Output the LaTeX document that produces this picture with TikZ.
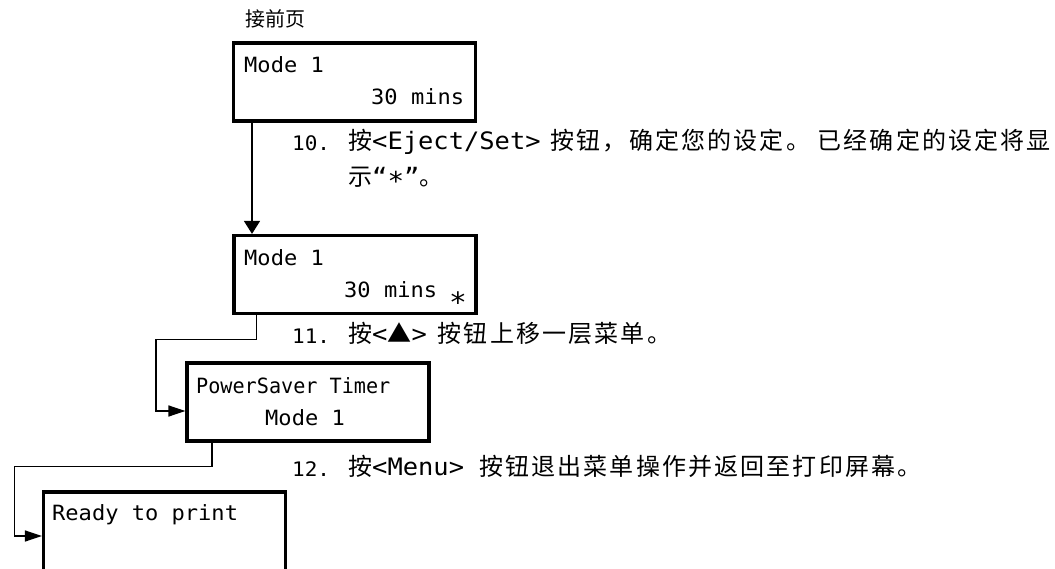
\documentclass[tikz,border=0pt]{standalone}
\usepackage{fontspec}
\usetikzlibrary{arrows.meta}
\newfontfamily\cjk[LetterSpace=9]{Noto Sans CJK SC}
\newfontfamily\cjkp{Noto Sans CJK SC}
\newfontfamily\lcdfont[FakeStretch=1.05]{DejaVu Sans Mono}
\newfontfamily\lcdfontn[FakeStretch=0.96]{DejaVu Sans Mono}
\newfontfamily\latn[FakeStretch=1.06]{DejaVu Sans Mono}
\begin{document}
\begin{tikzpicture}[x=1pt,y=-1pt,
  lcdbox/.style={draw, line width=3.2pt, minimum width=242pt, minimum height=78pt, inner sep=0pt, outer sep=0pt, anchor=north west},
  lcd/.style={font=\lcdfont\fontsize{21}{25}\selectfont, anchor=base west, inner sep=0pt},
  num/.style={font=\lcdfont\fontsize{20}{24}\selectfont, anchor=base west, inner sep=0pt},
  steptxt/.style={font=\cjk\fontsize{24}{28}\selectfont, anchor=base west, inner sep=0pt},
  cjklabel/.style={font=\cjkp\fontsize{20}{24}\selectfont, anchor=base west, inner sep=0pt},
  conn/.style={line width=1.5pt},
  vtip/.style={-{Triangle[length=13pt,width=16pt]}, shorten >=1.6pt},
  htip/.style={-{Triangle[length=17pt,width=11pt]}, shorten >=1.6pt}]
\useasboundingbox (0,0) rectangle (1055,569);
\clip (0,0) rectangle (1055,569);
% boxes
\node[lcdbox] (b1) at (233.5,43) {};
\node[lcdbox] (b2) at (234,235.5) {};
\node[lcdbox] (b3) at (187,363) {};
\node[lcdbox, minimum height=90pt] (b4) at (43.5,492) {};
% box texts
\node[lcd] (t1a) at (244,73) {Mode 1};
\node[lcd] (t1b) at (371,105) {30 mins};
\node[lcd] (t2a) at (244,266) {Mode 1};
\node[lcd] (t2b) at (344,298) {30 mins};
\node[lcd, font=\lcdfont\fontsize{28}{30}\selectfont] (t2c) at (449,298) {\raisebox{-15pt}{*}};
\node[lcd, font=\lcdfontn\fontsize{21}{25}\selectfont] (t3a) at (196,393) {PowerSaver Timer};
\node[lcd] (t3b) at (265,425) {Mode 1};
\node[lcd] (t4a) at (52,520) {Ready to print};
% label
\node[cjklabel] (lbl) at (245,27) {接前页};
% steps
\node[num] (n10) at (292,151) {10.};
\node[steptxt] (s10a) at (348,150) {按{\latn<Eject/Set>}\hspace{10pt}按钮，确定您的设定。 已经确定的设定将显};
\node[steptxt] (s10b) at (348,186) {示{\latn “}\raisebox{-5pt}{\latn\fontsize{26}{28}\selectfont *}{\latn ”}。};
\node[num] (n11) at (292,344) {11.};
\node[steptxt] (s11) at (348,343) {按{\latn<}▲{\latn>}\hspace{11pt}按钮上移一层菜单。};
\node[num] (n12) at (292,476) {12.};
\node[steptxt] (s12) at (348,475) {按{\latn<Menu>}\hspace{15pt}按钮退出菜单操作并返回至打印屏幕。};
% connectors
\coordinate (c1s) at ([xshift=18.5pt]b1.south west);
\draw[conn, vtip] (c1s) -- (c1s |- b2.north);
\coordinate (c2s) at ([xshift=22.3pt]b2.south west);
\coordinate (c2m) at (156,339.3);
\draw[conn, htip] (c2s) |- (c2m) |- ([yshift=-9pt]b3.west);
\coordinate (c3s) at ([xshift=25pt]b3.south west);
\coordinate (c3m) at (14.3,466.7);
\draw[conn, htip] (c3s) |- (c3m) |- ([yshift=1pt]b4.west);
\end{tikzpicture}
\end{document}
